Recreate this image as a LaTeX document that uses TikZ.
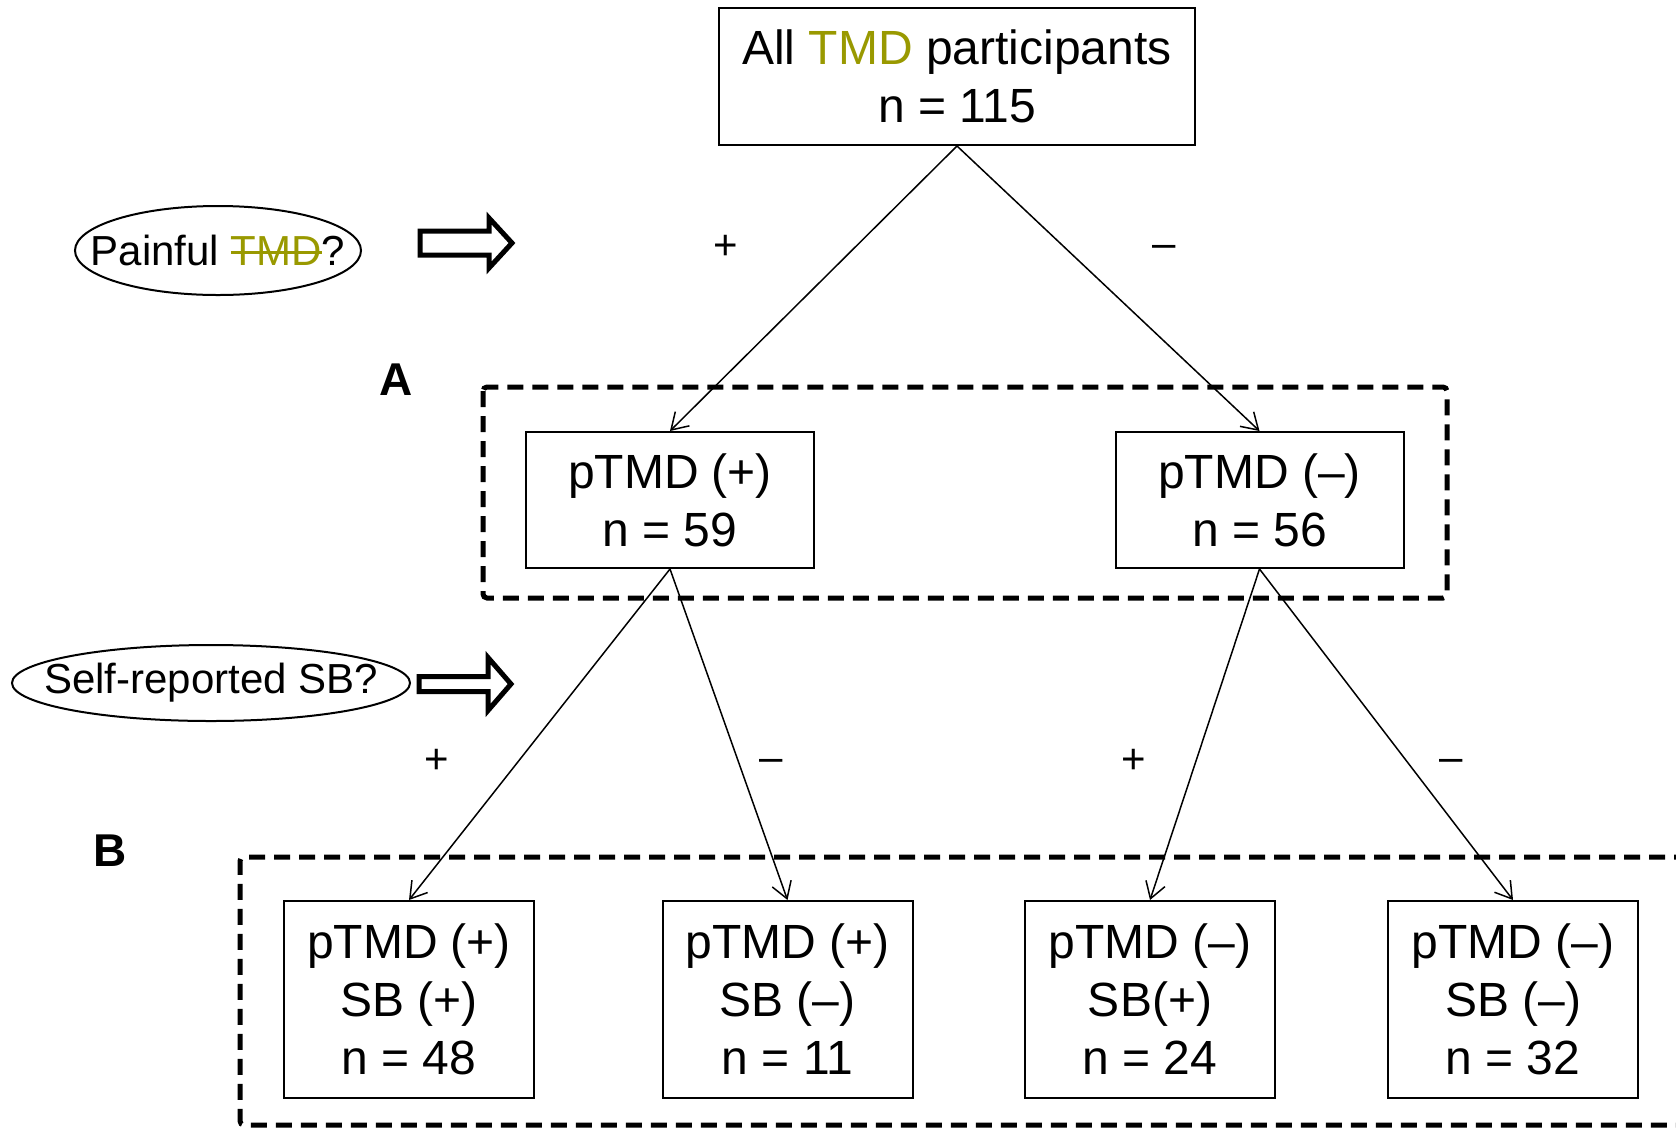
\documentclass[tikz,border=0pt]{standalone}
\usepackage{fontspec}
\setmainfont{Liberation Sans}
\definecolor{tmdolive}{RGB}{153, 153, 0}
\usepackage{tikz}
\usetikzlibrary{shapes.geometric, arrows.meta, positioning}
% struck-through word in the current colour
\newcommand{\strikeword}[1]{\begingroup\setbox0=\hbox{#1}\rlap{\rule[0.28em]{\wd0}{0.07em}}\box0\endgroup}

\begin{document}
\begin{tikzpicture}[x=0.5pt, y=-0.5pt,
  countbox/.style={draw, line width=1pt, inner sep=0pt, align=center, font=\fontsize{24}{29}\selectfont},
  topbox/.style={countbox, minimum width=238pt, minimum height=68.5pt},
  midbox/.style={countbox, minimum width=144pt, minimum height=68pt},
  leafbox/.style={countbox, minimum width=125pt, minimum height=98.5pt},
  question/.style={inner sep=0pt, font=\fontsize{21}{25}\selectfont},
  questionring/.style={draw, line width=1pt},
  signlabel/.style={font=\fontsize{21}{25}\selectfont},
  grouplabel/.style={font=\fontsize{23}{27}\selectfont\bfseries},
  groupframe/.style={dash pattern=on 8pt off 4.5pt, line width=2.5pt, rounded corners=2pt},
  blockarrow/.style={line width=2.5pt, line join=miter},
  branch/.style={-{Straight Barb[length=8pt, width=10pt]}, line width=0.75pt}]
  \useasboundingbox (0,0) rectangle (1676,1131);

  % Top box
  \node[topbox] (all) at (957,76.5) {All \textcolor{tmdolive}{TMD} participants\\n = 115};

  % First split
  \node[midbox] (ptmdpos) at (670,500) {pTMD (+)\\n = 59};
  \node[midbox] (ptmdneg) at (1259.5,500) {pTMD (\textendash)\\n = 56};

  % Second split
  \node[leafbox] (pospos) at (409,999.5) {pTMD (+)\\SB (+)\\n = 48};
  \node[leafbox] (posneg) at (787.5,999.5) {pTMD (+)\\SB (\textendash)\\n = 11};
  \node[leafbox] (negpos) at (1150,999.5) {pTMD (\textendash)\\SB(+)\\n = 24};
  \node[leafbox] (negneg) at (1513,999.5) {pTMD (\textendash)\\SB (\textendash)\\n = 32};

  \draw[branch] (all.south) -- (ptmdpos.north);
  \draw[branch] (all.south) -- (ptmdneg.north);
  \draw[branch] (ptmdpos.south) -- (pospos.north);
  \draw[branch] (ptmdpos.south) -- (posneg.north);
  \draw[branch] (ptmdneg.south) -- (negpos.north);
  \draw[branch] (ptmdneg.south) -- (negneg.north);

  % Signs on the branches
  \node[signlabel] (plusA) at (726,247) {+};
  \node[signlabel] (minusA) at (1164,251) {\textendash};
  \node[signlabel] (plusB1) at (437,761) {+};
  \node[signlabel] (minusB1) at (771,765) {\textendash};
  \node[signlabel] (plusB2) at (1134,761) {+};
  \node[signlabel] (minusB2) at (1451,765) {\textendash};

  % Questions
  \node[question] (painq) at (218,250.5) {Painful \textcolor{tmdolive}{\strikeword{TMD}}?};
  \draw[questionring] (painq.center) ellipse [x radius=71.5pt, y radius=22.25pt];
  \draw[blockarrow] (420,231) -- (489,231) -- (489,218) -- (512,243) -- (489,268) -- (489,255) -- (420,255) -- cycle;
  \node[question] (sbq) at (211,683) {Self-reported SB?};
  \draw[questionring] (sbq.center) ellipse [x radius=99.5pt, y radius=19pt];
  \draw[blockarrow] (419,676.5) -- (488,676.5) -- (488,657.5) -- (511,684) -- (488,710.5) -- (488,691.5) -- (419,691.5) -- cycle;

  % Groups A and B
  \draw[groupframe] (483,387) rectangle (1447,598);
  \node[grouplabel] (labA) at (396,380) {A};
  \draw[groupframe] (1690,857) -- (240,857) -- (240,1125) -- (1690,1125);
  \node[grouplabel] (labB) at (110,851) {B};
\end{tikzpicture}
\end{document}
